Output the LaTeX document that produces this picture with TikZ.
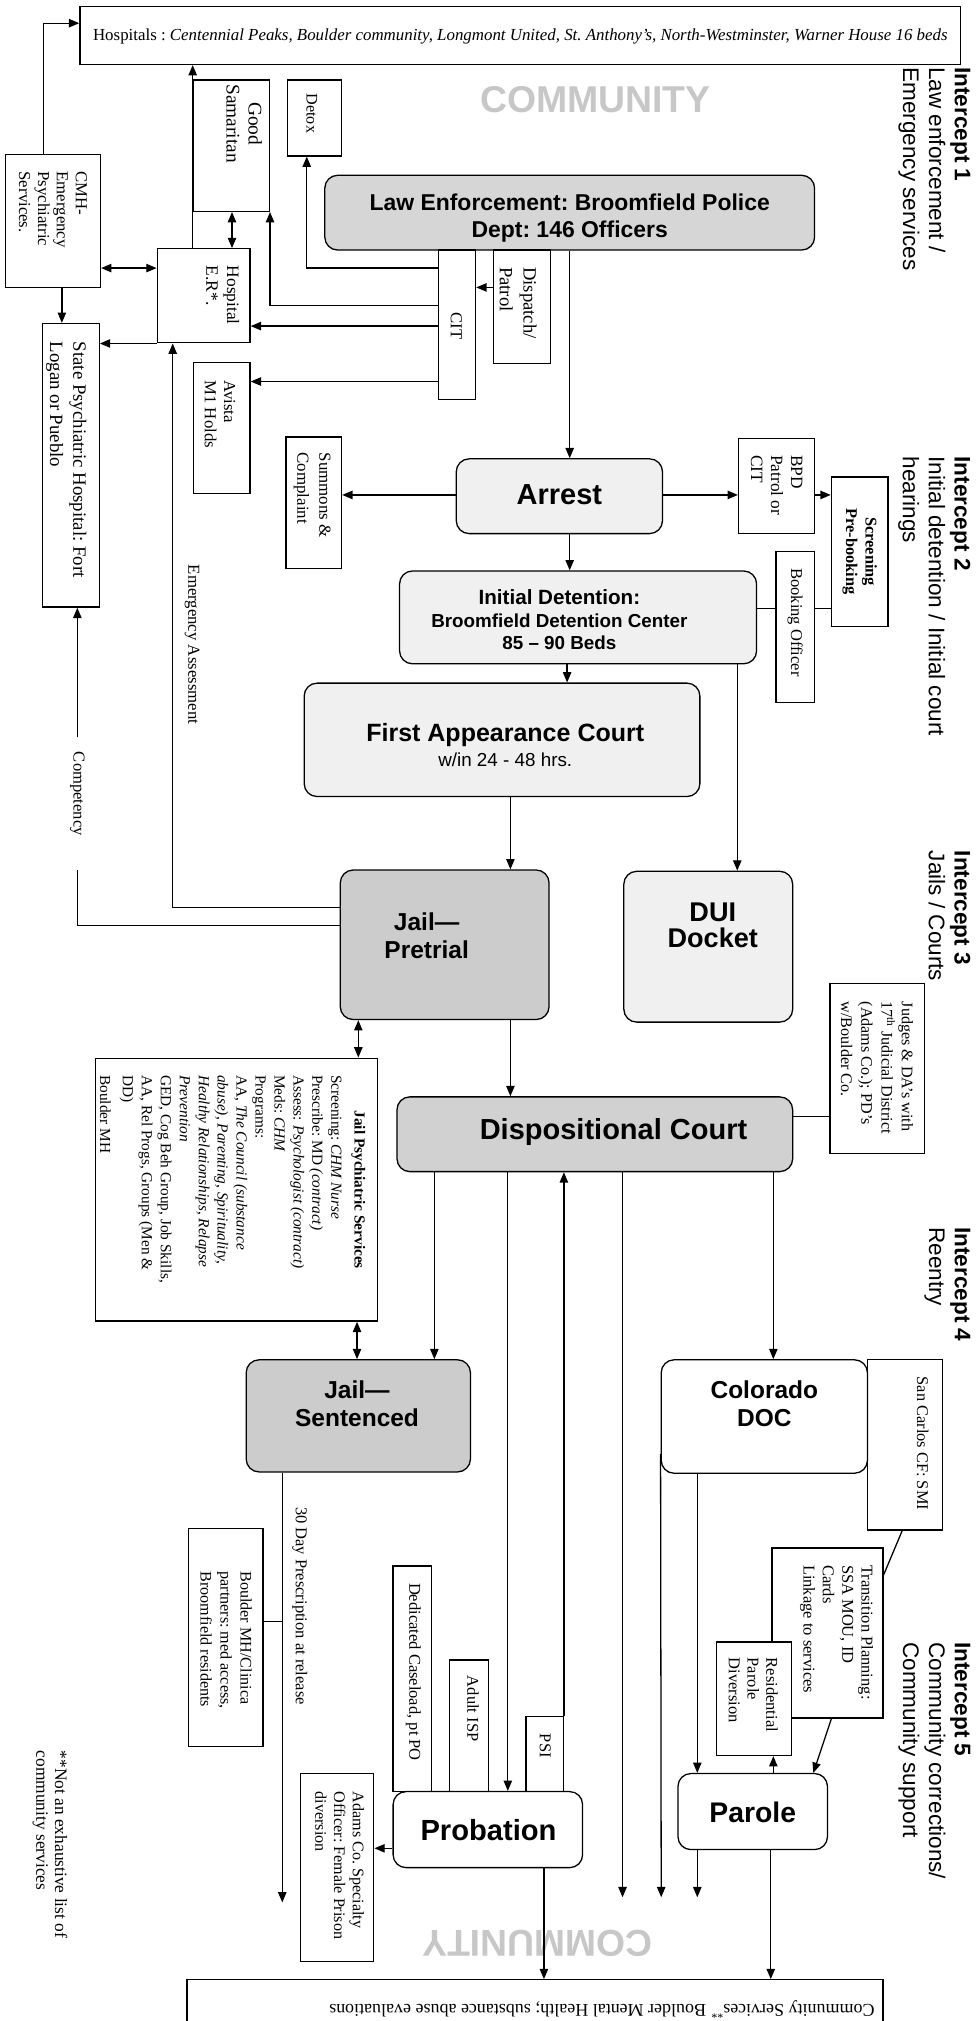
\documentclass[tikz,border=0pt]{standalone}
\usepackage{graphicx}
\usepackage{fontspec}
\setmainfont{Liberation Serif}
\newfontfamily\hv{Liberation Sans}
\usetikzlibrary{fit,arrows.meta}
\newcommand\fs[2]{\fontsize{#1}{#2}\selectfont}
\frenchspacing
\begin{document}
\begin{tikzpicture}[x=1pt,y=-1pt,
  box/.style={draw, line width=1pt, inner sep=0pt},
  rbox/.style={box, rounded corners=10pt},
  ln/.style={line width=1pt},
  arr/.style={ln, -{Triangle[length=8pt,width=6.5pt]}},
  darr/.style={ln, {Triangle[length=8pt,width=6.5pt]}-{Triangle[length=8pt,width=6.5pt]}},
  rt/.style={rotate=-90, inner sep=0pt, align=left, anchor=north west},
  big/.style={inner sep=0pt, align=center, font=\hv\bfseries\fs{#1}{#1}},
  icpt/.style={rt, font=\hv\fs{17.5}{20}},
  comm/.style={inner sep=0pt, text=black!22, font=\hv\bfseries\fs{29}{30}}
]
\useasboundingbox (0,0) rectangle (758,1568);
\clip (0,0) rectangle (758,1568);

% ---------- boxes ----------
\node[box, fit={(62,5) (745,50)}] (hosp) {};
\node[box, fit={(4,120) (78,223)}] (cmh) {};
\node[box, fit={(150,62) (209,164)}] (gsam) {};
\node[box, fit={(223,62) (265,121)}] (detox) {};
\node[rbox, fill=black!16, fit={(252,136) (632,194)}] (law) {};
\node[box, fit={(340,194) (369,310)}] (cit) {};
\node[box, fit={(383,194) (427,282)}] (disp) {};
\node[box, fit={(122,193) (194,266)}] (er) {};
\node[box, fit={(150,281) (194,383)}] (avista) {};
\node[box, fit={(33,251) (77,471)}] (state) {};
\node[box, fit={(222,339) (265,441)}] (summ) {};
\node[rbox, fill=black!6, fit={(354,356) (514,414)}] (arrest) {};
\node[box, fit={(573,340) (632,414)}] (bpd) {};
\node[box, fit={(645,370) (689,486)}] (screen) {};
\node[box, fit={(602,428) (632,545)}] (book) {};
\node[rbox, fill=black!6, fit={(310,443) (587,515)}] (initdet) {};
\node[rbox, fill=black!6, fit={(236,530) (543,618)}] (firstapp) {};
\node[rbox, fill=black!20, fit={(264,675) (426,791)}] (jailpre) {};
\node[rbox, fill=black!6, fit={(484,676) (615,793)}] (dui) {};
\node[box, fit={(644,763) (717,895)}] (judges) {};
\node[rbox, fill=black!18, fit={(308,851) (615,909)}] (dispc) {};
\node[box, fit={(74,821) (293,1025)}] (jps) {};
\node[rbox, fill=black!20, fit={(191,1055) (365,1142)}] (jailsen) {};
\node[rbox, fit={(513,1055) (673,1143)}] (doc) {};
\node[box, fit={(673,1055) (731,1187)}] (sancarlos) {};
\node[box, fit={(599,1201) (685,1333)}] (trans) {};
\node[box, fill=white, fit={(556,1274) (614,1362)}] (resid) {};
\node[box, fit={(305,1215) (335,1390)}] (dedic) {};
\node[box, fit={(349,1288) (379,1390)}] (adult) {};
\node[box, fit={(408,1332) (437,1390)}] (psi) {};
\node[rbox, fill=white, fit={(305,1390) (452,1449)}] (probation) {};
\node[rbox, fill=white, fit={(526,1376) (642,1435)}] (parole) {};
\node[box, fit={(146,1186) (204,1355)}] (bmh) {};
\node[box, fit={(233,1376) (290,1522)}] (adams) {};
\node[box, fit={(145,1536) (685,1600)}] (commbox) {};

% ---------- texts ----------
\node[anchor=west, inner sep=0pt] (hospt) at (72,28) {\resizebox{663pt}{!}{\fs{12}{14}Hospitals : \textit{Centennial Peaks, Boulder community, Longmont United, St. Anthony's, North-Westminster, Warner House 16 beds}}};
\node[comm] (commtop) at (462,77) {COMMUNITY};
\node[comm, rotate=180] (commbot) at (417,1508) {COMMUNITY};
\node[rotate=180, inner sep=0pt] (commt) at (467,1559) {\resizebox{423pt}{!}{\fs{12}{14}Community Services\textsuperscript{**} Boulder Mental Health; substance abuse evaluations}};

\node[icpt] (i1) at (753,52) {\textbf{Intercept 1}\\Law enforcement /\\Emergency services};
\node[icpt] (i2) at (753,354) {\textbf{Intercept 2}\\Initial detention / Initial court\\hearings};
\node[icpt] (i3) at (753,660) {\textbf{Intercept 3}\\Jails / Courts};
\node[icpt] (i4) at (753,952) {\textbf{Intercept 4}\\Reentry};
\node[icpt] (i5) at (753,1274) {\textbf{Intercept 5}\\Community corrections/\\Community support};

\node[rt, font=\fs{13}{14.7}] (cmht) at (67.7,133) {CMH-\\Emergency\\Psychiatric\\Services.};
\node[rt, anchor=center, align=center, font=\fs{15}{17}] (gsamt) at (189.5,96) {Good\\Samaritan};
\node[rt, anchor=center, font=\fs{12.5}{14}] (detoxt) at (242,88) {Detox};
\node[rt, anchor=center, font=\fs{13}{15}] (citt) at (354,253) {CIT};
\node[rt, font=\fs{14.5}{18.5}] (dispt) at (416.5,207) {Dispatch/\\Patrol};
\node[rt, font=\fs{13.5}{16}] (ert) at (185.7,206) {Hospital\\E.R*.};
\node[rt, font=\fs{13}{15}] (avistat) at (182.7,295) {Avista\\M1 Holds};
\node[rt, font=\fs{14.6}{18}] (statet) at (67.3,265) {State Psychiatric Hospital: Fort\\Logan or Pueblo};
\node[rt, font=\fs{13.1}{17}] (summt) at (256.7,351) {Summons \&\\Complaint};
\node[rt, font=\fs{13.4}{15.5}] (bpdt) at (622.7,353) {BPD\\Patrol or\\CIT};
\node[rt, anchor=center, align=center, font=\bfseries\fs{12.7}{15}] (screent) at (667,428) {Screening\\Pre-booking};
\node[rt, anchor=center, font=\fs{12.8}{15}] (bookt) at (617,483) {Booking Officer};
\node[rt, anchor=center, font=\fs{13}{15}] (emergt) at (149,500) {Emergency Assessment};
\node[rt, anchor=center, font=\fs{12.9}{15}] (compt) at (60,616) {Competency};
\node[rt, anchor=center, font=\bfseries\fs{11.9}{14.7}] (jpst) at (278,923) {Jail Psychiatric Services};
\node[rt, font=\fs{11.9}{14.7}] (jpsb) at (265.2,834) {Screening: \textit{CHM Nurse}\\Prescribe: MD \textit{(contract)}\\Assess: \textit{Psychologist (contract)}\\Meds: \textit{CHM}\\Programs:\\AA, \textit{The Council (substance}\\\textit{abuse), Parenting, Spirituality,}\\\textit{Healthy Relationships, Relapse}\\\textit{Prevention}\\GED, Cog Beh Group, Job Skills,\\AA, Rel Progs, Groups (Men \&\\DD)\\[3pt]Boulder MH};
\node[rt, font=\fs{12.5}{15.7}] (judgest) at (708.5,777) {Judges \& DA's with\\17\textsuperscript{th} Judicial District\\(Adams Co.); PD's\\w/Boulder Co.};
\node[rt, font=\fs{12.7}{15}] (sanct) at (720.6,1068) {San Carlos CF: SMI};
\node[rt, font=\fs{12.8}{15}] (transt) at (677.6,1214) {Transition Planning:\\SSA MOU, ID\\Cards\\Linkage to services};
\node[rt, font=\fs{12.8}{14.5}] (residt) at (603.6,1286) {Residential\\Parole\\Diversion};
\node[rt, font=\fs{12.8}{15}] (dedict) at (326.6,1228) {Dedicated Caseload, pt PO};
\node[rt, font=\fs{12.8}{15}] (adultt) at (371.6,1300) {Adult ISP};
\node[rt, font=\fs{12.8}{15}] (psit) at (427.6,1345) {PSI};
\node[rt, font=\fs{12.5}{15.5}] (bmht) at (195.6,1219) {Boulder MH/Clinica\\partners: med access,\\Broomfield residents};
\node[rt, font=\fs{12.5}{14.5}] (adamst) at (282.6,1390) {Adams Co. Specialty\\Officer: Female Prison\\diversion};
\node[rt, font=\fs{12.8}{15}] (dayt) at (238.6,1169) {30 Day Prescription at release};
\node[rt, font=\fs{13.5}{14.5}] (foot) at (52.5,1358) {**Not an exhaustive list of\\community services};

\node[big=17.8, font=\hv\bfseries\fs{17.8}{21}] (lawt) at (442,169) {Law Enforcement: Broomfield Police\\Dept: 146 Officers};
\node[big=22.5] (arrestt) at (434,384) {Arrest};
\node[inner sep=0pt, align=center, font=\hv\bfseries\fs{14.6}{17.5}] (initdett) at (434,481) {{\fs{16}{17.5}Initial Detention:}\\Broomfield Detention Center\\85 – 90 Beds};
\node[inner sep=0pt, align=center, font=\hv\fs{14.6}{20}] (firstappt) at (392,578) {{\bfseries\fs{19.4}{20}First Appearance Court}\\w/in 24 - 48 hrs.};
\node[big=19, font=\hv\bfseries\fs{19}{22}] (jailpret) at (331,726) {Jail—\\Pretrial};
\node[big=21, font=\hv\bfseries\fs{21}{20.5}] (duit) at (553,718) {DUI\\Docket};
\node[big=22.5] (dispct) at (476,878) {Dispositional Court};
\node[big=19, font=\hv\bfseries\fs{19}{22}] (jailsent) at (277,1089) {Jail—\\Sentenced};
\node[big=19, font=\hv\bfseries\fs{19}{22}] (doct) at (593,1089) {Colorado\\DOC};
\node[big=22.6] (probationt) at (379,1420) {Probation};
\node[big=22] (parolet) at (584,1406) {Parole};

% ---------- connectors ----------
\draw[arr] (cmh.north -| 34,0) |- (hosp.west |- 0,18);
\draw[arr] (er.north -| gsam.west) -- (hosp.south -| gsam.west);
\draw[darr] (gsam.south -| 180,0) -- (er.north -| 180,0);
\draw[arr] (cit.west |- 0,208) -| (238,0 |- detox.south);
\draw[arr] (cit.west |- 0,237) -| (gsam.south east);
\draw[arr] (cit.west |- 0,253) -- (er.east |- 0,253);
\draw[arr] (cit.west |- 0,296) -- (avista.east |- 0,296);
\draw[arr] (disp.west |- 0,223) -- (cit.east |- 0,223);
\draw[darr] (cmh.east |- 0,208) -- (er.west |- 0,208);
\draw[arr] (cmh.south -| 48,0) -- (state.north -| 48,0);
\draw[arr] (er.south west) -- (state.east |- er.south west);
\draw[arr] (jailpre.west |- 0,704) -| (er.south -| 134,0);
\coordinate (compTop) at (60,572);
\coordinate (compBot) at (60,675);
\draw[arr] (compTop) -- (state.south -| compTop);
\draw[ln] (jailpre.west |- 0,718) -| (compBot);

\draw[arr] (law.south -| 442,0) -- (arrest.north -| 442,0);
\draw[arr] (arrest.west |- 0,384) -- (summ.east |- 0,384);
\draw[arr] (arrest.east |- 0,384) -- (bpd.west |- 0,384);
\draw[arr] (bpd.east |- 0,384) -- (screen.west |- 0,384);
\draw[arr] (arrest.south -| 442,0) -- (initdet.north -| 442,0);
\draw[ln] (initdet.east |- 0,472) -- (book.west |- 0,472);
\draw[ln] (book.east |- 0,472) -- (screen.west |- 0,472);
\draw[arr] (initdet.south -| 440,0) -- (firstapp.north -| 440,0);
\draw[arr] (initdet.south -| 572,0) -- (dui.north -| 572,0);
\draw[arr] (firstapp.south -| 396,0) -- (jailpre.north -| 396,0);
\draw[arr] (jailpre.south -| 396,0) -- (dispc.north -| 396,0);
\draw[darr] (jailpre.south -| 278,0) -- (jps.north -| 278,0);
\draw[darr] (jps.south -| 277,0) -- (jailsen.north -| 277,0);
\draw[ln] (dispc.east |- 0,866) -- (judges.west |- 0,866);
\draw[arr] (dispc.south -| 337,0) -- (jailsen.north -| 337,0);
\draw[arr] (dispc.south -| 394,0) -- (probation.north -| 394,0);
\draw[arr] (psi.north east) -- (dispc.south -| psi.north east);
\coordinate (e1) at (483,1472);
\coordinate (e2) at (513,1472);
\coordinate (e3) at (541,1472);
\draw[arr] (dispc.south -| e1) -- (e1);
\draw[arr] (dispc.south -| 600,0) -- (doc.north -| 600,0);
\draw[arr] (doc.west |- 0,1128) -- (e2);
\draw[arr] (doc.south -| e3) -- (parole.north -| e3);
\draw[arr] (parole.south -| e3) -- (e3);
\draw[ln] (sancarlos.south -| 700,0) -- (trans.east |- 0,1222);
\draw[arr] (trans.south -| 645,0) -- (parole.north -| 631,0);
\draw[arr] (parole.north -| 600,0) -- (resid.south -| 600,0);
\draw[arr] (parole.south -| 598,0) -- (commbox.north -| 598,0);
\draw[arr] (probation.south -| 422,0) -- (commbox.north -| 422,0);
\draw[arr] (probation.west |- 0,1434) -- (adams.east |- 0,1434);
\coordinate (e0) at (219,1476);
\draw[arr] (jailsen.south -| e0) -- (e0);
\draw[ln] (bmh.east |- 0,1258) -- (e0 |- 0,1258);
\end{tikzpicture}
\end{document}
